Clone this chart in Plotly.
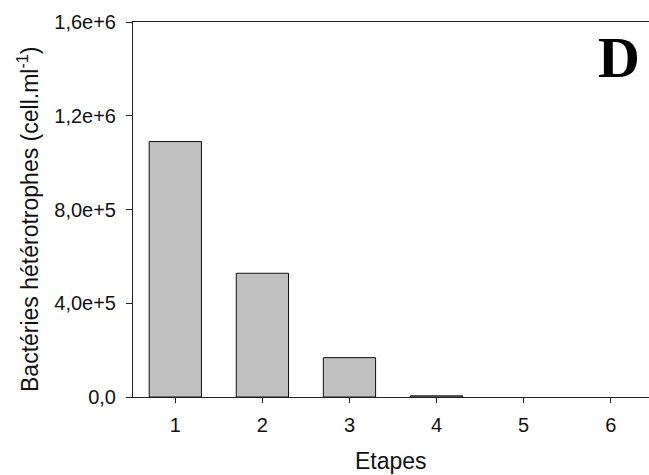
import plotly.graph_objects as go

etapes = [1, 2, 3, 4, 5, 6]
bacteries = [1.09e6, 5.28e5, 1.68e5, 5000, 0, 0]
y_tickvals = [0, 4e5, 8e5, 1.2e6, 1.6e6]
y_ticktext = ["0,0", "4,0e+5", "8,0e+5", "1,2e+6", "1,6e+6"]
x_ticktext = ["1", "2", "3", "4", "5", "6"]

W, H = 649, 475
L, R, T, B = 133, 0, 22, 78

outline_widths = [1 if v > 0 else 0 for v in bacteries]

fig = go.Figure()
fig.add_trace(go.Bar(
    x=etapes, y=bacteries, width=0.6,
    marker=dict(color="#c0c0c0", line=dict(color="#111111", width=outline_widths)),
    showlegend=False,
))

font = "Liberation Sans, Arial, sans-serif"
fig.update_layout(
    width=W, height=H,
    margin=dict(l=L, r=R, t=T, b=B, pad=0),
    plot_bgcolor="white", paper_bgcolor="white",
    font=dict(family=font, color="#111111"),
    xaxis=dict(
        range=[0.514, 6.44], tickvals=etapes, ticktext=x_ticktext,
        showline=True, linecolor="#222222", linewidth=1, mirror=True,
        ticks="outside", ticklen=5, tickcolor="#222222", tickwidth=1,
        ticklabelstandoff=5,
        showgrid=False, zeroline=False,
        tickfont=dict(size=20, family=font, color="#111111"),
    ),
    yaxis=dict(
        range=[0, 1.6e6], tickvals=y_tickvals, ticktext=y_ticktext,
        showline=True, linecolor="#222222", linewidth=1,
        ticks="outside", ticklen=6, tickcolor="#222222", tickwidth=1,
        ticklabelstandoff=6,
        showgrid=False, zeroline=False,
        tickfont=dict(size=20, family=font, color="#111111"),
    ),
    annotations=[
        dict(text="Etapes", xref="paper", yref="paper",
             x=0.5, y=-(461 - (H - B)) / (H - T - B),
             xanchor="center", yanchor="middle", showarrow=False,
             font=dict(size=23, family=font, color="#111111")),
        dict(text="Bactéries hétérotrophes (cell.ml<sup>-1</sup>)",
             xref="paper", yref="paper",
             x=(28 - L) / (W - L - R), y=0.5 - (220 - 209.5) / (H - T - B),
             xanchor="center", yanchor="middle", textangle=-90, showarrow=False,
             font=dict(size=23, family=font, color="#111111")),
        dict(text="<b>D</b>", xref="paper", yref="paper",
             x=(619 - L) / (W - L - R), y=1 - (58 - T) / (H - T - B),
             xanchor="center", yanchor="middle", showarrow=False,
             font=dict(size=58, family="Liberation Serif, Times New Roman, serif", color="#000000")),
    ],
)

fig.write_html("out.html")
